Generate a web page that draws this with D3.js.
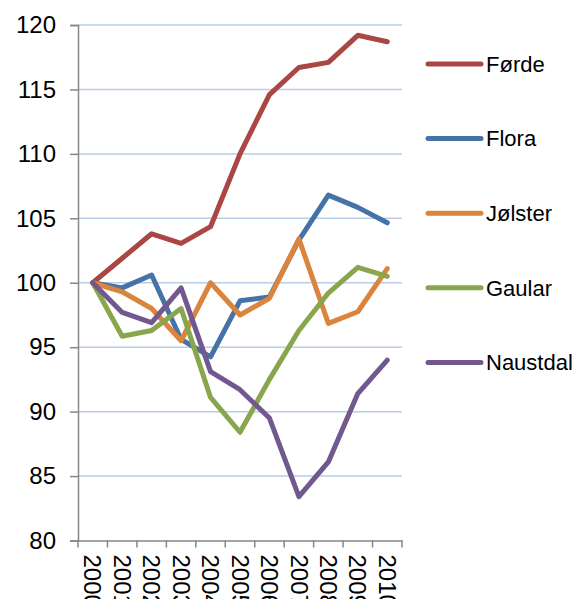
<!DOCTYPE html>
<html>
<head>
<meta charset="utf-8">
<script src="https://cdn.jsdelivr.net/npm/d3@7"></script>
<style>
  body { margin: 0; background: #fff; }
  text { font-family: "Liberation Sans", Arial, sans-serif; fill: #000; }
</style>
</head>
<body>
<svg id="chart" width="579" height="599"></svg>
<script>
const years = ["2000","2001","2002","2003","2004","2005","2006","2007","2008","2009","2010"];
const seriesNames = ["Førde","Flora","Jølster","Gaular","Naustdal"];
const forde    = [100, 101.9, 103.8, 103.05, 104.35, 110.0, 114.6, 116.7, 117.1, 119.2, 118.7];
const flora    = [100, 99.6, 100.6, 95.6, 94.25, 98.6, 98.9, 103.3, 106.8, 105.85, 104.65];
const jolster  = [100, 99.3, 98.0, 95.5, 100.0, 97.5, 98.8, 103.4, 96.85, 97.75, 101.1];
const gaular   = [100, 95.85, 96.3, 98.0, 91.1, 88.4, 92.5, 96.3, 99.2, 101.2, 100.5];
const naustdal = [100, 97.7, 96.9, 99.6, 93.1, 91.7, 89.5, 83.4, 86.1, 91.4, 94.0];
const yTicks = [80, 85, 90, 95, 100, 105, 110, 115, 120];
const colors = ["#AA4643", "#4572A7", "#DB843D", "#89A54E", "#71588F"];

const allValues = [forde, flora, jolster, gaular, naustdal];
const series = seriesNames.map((n, i) => ({ name: n, values: allValues[i], color: colors[i] }));

const svg = d3.select("#chart");
const mLeft = 78, mRight = 402, mTop = 25, mBottom = 540.5;

const x = d3.scaleBand().domain(years).range([mLeft, mRight]);
const y = d3.scaleLinear().domain([80, 120]).range([mBottom, mTop]);

// gridlines
svg.append("g").selectAll("line").data(yTicks.filter(t => t !== 80)).join("line")
  .attr("x1", mLeft).attr("x2", mRight)
  .attr("y1", d => y(d)).attr("y2", d => y(d))
  .attr("stroke", "#B9CDE5").attr("stroke-width", 1.5);

// y axis
const yAxis = svg.append("g").attr("transform", `translate(${mLeft},0)`)
  .call(d3.axisLeft(y).tickValues(yTicks).tickSize(8).tickPadding(14).tickFormat(d3.format("d")));
yAxis.select(".domain").attr("stroke", "#868686").attr("stroke-width", 1.5);
yAxis.selectAll(".tick line").attr("stroke", "#868686").attr("stroke-width", 1.5);
yAxis.selectAll(".tick text").attr("font-size", 24).attr("font-family", "Liberation Sans, Arial, sans-serif").attr("fill", "#000");

// x axis
const xAxis = svg.append("g").attr("transform", `translate(0,${mBottom})`)
  .call(d3.axisBottom(x).tickSize(0));
xAxis.select(".domain").attr("stroke", "#868686").attr("stroke-width", 1.5);
xAxis.selectAll(".tick text").remove();
// x tick marks at band boundaries
const bounds = years.map(yr => x(yr)).concat([x(years[years.length - 1]) + x.bandwidth()]);
xAxis.append("g").selectAll("line").data(bounds).join("line")
  .attr("x1", d => d).attr("x2", d => d).attr("y1", 0).attr("y2", 7)
  .attr("stroke", "#868686").attr("stroke-width", 1.5);
// rotated year labels
svg.append("g").selectAll("text").data(years).join("text")
  .attr("transform", d => `translate(${x(d) + x.bandwidth() / 2},${mBottom + 14}) rotate(90)`)
  .attr("dy", "0.35em")
  .attr("text-anchor", "start")
  .attr("font-size", 24)
  .text(d => d);

// lines
const line = d3.line()
  .x((d, i) => x(years[i]) + x.bandwidth() / 2)
  .y(d => y(d));

svg.append("g").selectAll("path").data(series).join("path")
  .attr("d", d => line(d.values))
  .attr("fill", "none")
  .attr("stroke", d => d.color)
  .attr("stroke-width", 5)
  .attr("stroke-linejoin", "round")
  .attr("stroke-linecap", "round");

// legend
const legend = svg.append("g").selectAll("g").data(series).join("g")
  .attr("transform", (d, i) => `translate(0,${64 + i * 74.6})`);
legend.append("line")
  .attr("x1", 428).attr("x2", 481).attr("y1", 0).attr("y2", 0)
  .attr("stroke", d => d.color).attr("stroke-width", 5).attr("stroke-linecap", "round");
legend.append("text")
  .attr("x", 486).attr("y", 0).attr("dy", "0.35em")
  .attr("font-size", 22)
  .text(d => d.name);
</script>
</body>
</html>
